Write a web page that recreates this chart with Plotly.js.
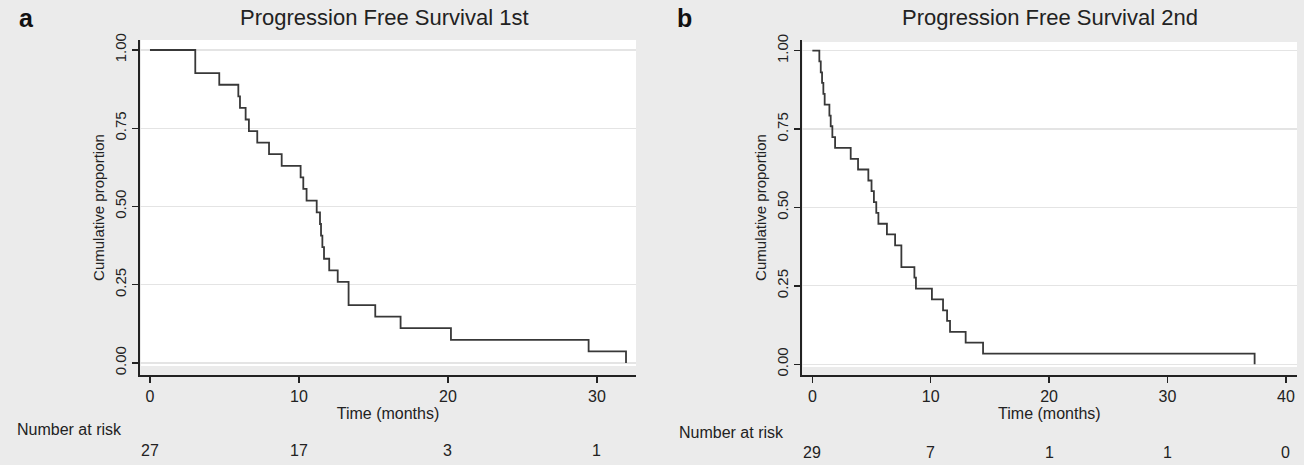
<!DOCTYPE html>
<html>
<head>
<meta charset="utf-8">
<script src="https://cdn.plot.ly/plotly-3.0.1.min.js"></script>
<style>
html,body{margin:0;padding:0;background:#ebebeb;}
#chart{width:1304px;height:465px;}
</style>
</head>
<body>
<div id="chart"></div>
<script>
// ---- Panel a: Progression Free Survival 1st (n = 27) ----
const timesA = [0, 3.04, 4.65, 5.93, 6.04, 6.42, 6.64, 7.2, 7.99, 8.84, 10.11, 10.29, 10.51, 11.19, 11.41, 11.48, 11.57, 11.68, 12.03, 12.6, 13.33, 15.12, 16.82, 20.2, 29.44, 31.95];
const survA  = [1.0, 0.926, 0.889, 0.852, 0.815, 0.778, 0.741, 0.704, 0.667, 0.630, 0.593, 0.556, 0.519, 0.481, 0.444, 0.407, 0.370, 0.333, 0.296, 0.259, 0.185, 0.148, 0.111, 0.074, 0.037, 0.0];
const riskTimesA = [0, 10, 20, 30];
const riskCountsA = [27, 17, 3, 1];
const xTicksA = [0, 10, 20, 30];

// ---- Panel b: Progression Free Survival 2nd (n = 29) ----
const timesB = [0, 0.59, 0.71, 0.82, 0.93, 1.04, 1.44, 1.55, 1.69, 1.92, 3.24, 3.86, 4.73, 5.0, 5.2, 5.4, 5.58, 6.3, 6.99, 7.52, 8.62, 8.75, 10.1, 11.04, 11.38, 11.63, 12.95, 14.42, 37.36];
const survB  = [1.0, 0.966, 0.931, 0.897, 0.862, 0.828, 0.793, 0.759, 0.724, 0.690, 0.655, 0.621, 0.586, 0.552, 0.517, 0.483, 0.448, 0.414, 0.379, 0.310, 0.276, 0.241, 0.207, 0.172, 0.138, 0.103, 0.069, 0.034, 0.0];
const riskTimesB = [0, 10, 20, 30, 40];
const riskCountsB = [29, 7, 1, 1, 0];
const xTicksB = [0, 10, 20, 30, 40];

const yTicks = [0, 0.25, 0.5, 0.75, 1];
const yTickText = ["0.00", "0.25", "0.50", "0.75", "1.00"];

const titles = ["Progression Free Survival 1st", "Progression Free Survival 2nd"];
const panelLetters = ["a", "b"];

const FONT = "Liberation Sans, Arial, Helvetica, sans-serif";
const lineColor = "#383838";

const traces = [
  {x: timesA, y: survA, type: "scatter", mode: "lines", line: {shape: "hv", color: lineColor, width: 1.8}, xaxis: "x", yaxis: "y", hoverinfo: "x+y", showlegend: false},
  {x: timesB, y: survB, type: "scatter", mode: "lines", line: {shape: "hv", color: lineColor, width: 1.8}, xaxis: "x2", yaxis: "y2", hoverinfo: "x+y", showlegend: false}
];

function xAxis(domain, range, ticks, anchor) {
  return {
    domain: domain, range: range, anchor: anchor,
    tickmode: "array", tickvals: ticks, ticktext: ticks.map(String),
    ticks: "outside", ticklen: 6, tickwidth: 1.3, tickcolor: "#222",
    showline: true, linecolor: "#222", linewidth: 1.5,
    showgrid: false, zeroline: false,
    tickfont: {family: FONT, size: 16, color: "#222"},
    title: {text: "Time (months)", font: {family: FONT, size: 16, color: "#222"}, standoff: 0},
    fixedrange: true
  };
}
function yAxis(range, anchor) {
  return {
    domain: [0, 1], range: range, anchor: anchor,
    tickmode: "array", tickvals: yTicks, ticktext: yTickText, tickangle: -90,
    ticks: "outside", ticklen: 6, tickwidth: 1.3, tickcolor: "#222",
    showline: true, linecolor: "#222", linewidth: 1.5,
    showgrid: true, gridcolor: "#e4e4e4", gridwidth: 1.2, zeroline: false,
    tickfont: {family: FONT, size: 15, color: "#222"},
    title: {text: "Cumulative proportion", font: {family: FONT, size: 15, color: "#222"}, standoff: 4},
    fixedrange: true
  };
}

const txt = (size, color) => ({family: FONT, size: size, color: color || "#222"});
const annotations = [];
// panel letters and titles
annotations.push({text: "<b>" + panelLetters[0] + "</b>", xref: "paper", yref: "paper", x: 0.0207, xanchor: "center", y: 1.066, yanchor: "middle", showarrow: false, font: txt(25, "#111")});
annotations.push({text: "<b>" + panelLetters[1] + "</b>", xref: "paper", yref: "paper", x: 0.5253, xanchor: "center", y: 1.066, yanchor: "middle", showarrow: false, font: txt(25, "#111")});
annotations.push({text: titles[0], xref: "paper", yref: "paper", x: 0.2952, xanchor: "center", y: 1.066, yanchor: "middle", showarrow: false, font: txt(22)});
annotations.push({text: titles[1], xref: "paper", yref: "paper", x: 0.8052, xanchor: "center", y: 1.066, yanchor: "middle", showarrow: false, font: txt(22)});
// number at risk
annotations.push({text: "Number at risk", xref: "paper", yref: "paper", x: 0.0115, xanchor: "left", y: -0.164, yanchor: "middle", showarrow: false, font: txt(16)});
annotations.push({text: "Number at risk", xref: "paper", yref: "paper", x: 0.519, xanchor: "left", y: -0.172, yanchor: "middle", showarrow: false, font: txt(16)});
riskTimesA.forEach((t, i) => annotations.push({text: String(riskCountsA[i]), xref: "x", yref: "paper", x: t, xanchor: "center", y: -0.224, yanchor: "middle", showarrow: false, font: txt(16)}));
riskTimesB.forEach((t, i) => annotations.push({text: String(riskCountsB[i]), xref: "x2", yref: "paper", x: t, xanchor: "center", y: -0.23, yanchor: "middle", showarrow: false, font: txt(16)}));

const shapes = [
  {type: "rect", xref: "x domain", yref: "y domain", x0: 0.002, x1: 1, y0: 0.027, y1: 1, fillcolor: "#ffffff", line: {width: 0}, layer: "below"},
  {type: "rect", xref: "x2 domain", yref: "y2 domain", x0: 0.002, x1: 1, y0: 0.024, y1: 0.994, fillcolor: "#ffffff", line: {width: 0}, layer: "below"}
];

const layout = {
  width: 1304, height: 465,
  margin: {l: 0, r: 0, t: 40, b: 90},
  paper_bgcolor: "#ebebeb", plot_bgcolor: "#ebebeb",
  xaxis: xAxis([0.10736, 0.48773], [-0.67, 32.62], xTicksA, "y"),
  yaxis: yAxis([-0.0385, 1.032], "x"),
  xaxis2: xAxis([0.6148, 0.99463], [-0.9, 40.94], xTicksB, "y2"),
  yaxis2: yAxis([-0.0343, 1.034], "x2"),
  annotations: annotations,
  shapes: shapes,
  showlegend: false
};

Plotly.newPlot("chart", traces, layout, {displayModeBar: false, staticPlot: true});
</script>
</body>
</html>
